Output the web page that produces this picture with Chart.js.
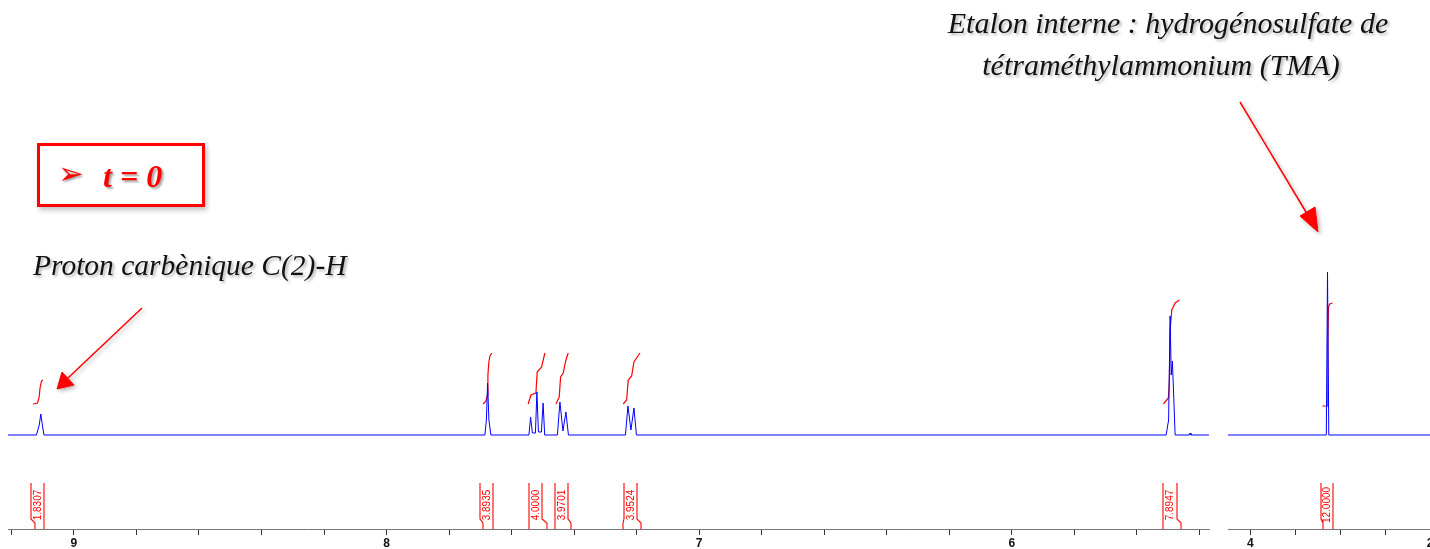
<!DOCTYPE html>
<html><head><meta charset="utf-8">
<script src="https://cdn.jsdelivr.net/npm/chart.js@4.4.0/dist/chart.umd.min.js"></script>
<style>
html,body{margin:0;padding:0;background:#fff;overflow:hidden;width:1430px;height:549px;}
#wrap{position:relative;width:1430px;height:549px;overflow:hidden;}
canvas{position:absolute;top:0;}
#cL{left:0;}
#cR{left:1216px;}
.ann{position:absolute;font-family:"Liberation Serif","Times New Roman",serif;font-style:italic;font-size:30px;line-height:30px;color:#111;white-space:nowrap;text-shadow:2px 2px 3px rgba(0,0,0,0.3);}
#box{position:absolute;left:37px;top:143px;width:168px;height:64px;box-sizing:border-box;border:3px solid #f00;box-shadow:2px 3px 5px rgba(0,0,0,0.25);background:#fff;}
#boxArrow{position:absolute;left:18px;top:10px;font-family:"DejaVu Sans",sans-serif;font-size:31px;line-height:34px;color:#f00;text-shadow:1px 2px 2px rgba(0,0,0,0.35);}
#boxText{position:absolute;left:63px;top:14px;font-family:"Liberation Serif","Times New Roman",serif;font-style:italic;font-weight:bold;font-size:32px;line-height:32px;color:#f00;white-space:pre;text-shadow:2px 2px 2px rgba(0,0,0,0.35);}
svg{position:absolute;left:0;top:0;}
</style>
</head><body>
<div id="wrap">
<canvas id="cL" width="1216" height="549"></canvas>
<canvas id="cR" width="240" height="549"></canvas>
<div class="ann" style="left:868px;width:600px;text-align:center;top:8px;">Etalon interne : hydrogénosulfate de</div>
<div class="ann" style="left:861px;width:600px;text-align:center;top:50px;">tétraméthylammonium (TMA)</div>
<div class="ann" style="left:33px;top:250px;font-size:29.5px;">Proton carbènique C(2)-H</div>
<div id="box"><span id="boxArrow">➢</span><span id="boxText">t = 0</span></div>
<svg width="1430" height="549" viewBox="0 0 1430 549">
<defs><filter id="sh" x="-20%" y="-20%" width="140%" height="140%"><feDropShadow dx="2" dy="2" stdDeviation="2" flood-color="#000" flood-opacity="0.3"/></filter></defs>
<g filter="url(#sh)" fill="#f00" stroke="#f00">
<line x1="1240" y1="102" x2="1309" y2="217" stroke-width="1.5"/>
<polygon points="1318,232 1300,216 1315,207" stroke-width="1"/>
<line x1="142" y1="308" x2="68" y2="378" stroke-width="1.5"/>
<polygon points="57,389 62,372 74,385" stroke-width="1"/>
</g>
</svg>
</div>
<script>
// ---- axis ticks ----
const leftTicks = [9.2, 9.0, 8.8, 8.6, 8.4, 8.2, 8.0, 7.8, 7.6, 7.4, 7.2, 7.0, 6.8, 6.6, 6.4, 6.2, 6.0, 5.8, 5.6, 5.4];
const leftMajor = [9, 8, 7, 6];
const rightTicks = [4.0, 3.5, 3.0, 2.5, 2.0];
const rightMajor = [4, 2];
const leftRange = [5.369, 9.211];
const rightRange = [2.0, 4.25];

// ---- spectrum (ppm, intensity) ----
const specLeftPpm = [9.211, 9.120, 9.111, 9.106, 9.101, 9.096,
  7.6854, 7.6806, 7.6768, 7.6726, 7.6662,
  7.5446, 7.5392, 7.5334, 7.5238, 7.5190, 7.5142, 7.5046, 7.4992, 7.4941,
  7.4534, 7.4454, 7.4358, 7.4262, 7.4182,
  7.2358, 7.2278, 7.2182, 7.2086, 7.2006,
  5.5062, 5.4982, 5.4934, 5.4898, 5.4861, 5.4774, 5.4320, 5.4294, 5.4268, 5.369];
const specLeftInt = [0, 0, 10, 21, 10, 0,
  0, 15, 52, 15, 0,
  0, 18, 2, 2, 43, 3, 3, 32, 0,
  0, 33, 4, 23, 0,
  0, 29, 5, 27, 0,
  0, 15, 119, 60, 74, 0, 0, 2, 0, 0];
const specRightPpm = [4.25, 3.155, 3.1416, 3.1271, 2.0];
const specRightInt = [0, 0, 163, 0, 0];

// ---- integral curves ----
const int1Ppm = [9.1309, 9.1168, 9.1117, 9.1085, 9.1040, 9.0989];
const int1Val = [31, 32, 37, 47, 54, 55];
const int2Ppm = [7.6909, 7.6822, 7.6774, 7.6758, 7.6726, 7.6694, 7.6630];
const int2Val = [31, 34, 40, 60, 73, 79, 82];
const int3Ppm = [7.5469, 7.5382, 7.5222, 7.5181, 7.5040, 7.4989, 7.4934];
const int3Val = [31, 40, 42, 63, 68, 75, 82];
const int4Ppm = [7.4582, 7.4477, 7.4432, 7.4349, 7.4262, 7.4189];
const int4Val = [31, 38, 58, 62, 75, 82];
const int5Ppm = [7.2429, 7.2320, 7.2269, 7.2160, 7.2086, 7.1894];
const int5Val = [31, 35, 55, 59, 73, 82];
const int6Ppm = [5.5149, 5.4989, 5.4957, 5.4934, 5.4880, 5.4774, 5.4637];
const int6Val = [31, 37, 55, 105, 125, 132, 135];
const intTPpm = [3.1973, 3.1416, 3.1382, 3.1304, 3.1159, 3.0858];
const intTVal = [29, 29, 92, 128, 131, 132];

// ---- integral values / ranges ----
const intLabelsLeft = ['1.8307', '3.8935', '4.0000', '3.9701', '3.9524', '7.8947'];
const intBoxFromLeft = [9.136, 7.7014, 7.5437, 7.4624, 7.2397, 5.5149];
const intBoxToLeft = [9.0954, 7.6589, 7.5021, 7.4189, 7.1981, 5.472];
const intRangeFromLeft = [9.1245, 7.6928, 7.5437, 7.4624, 7.2429, 5.5149];
const intRangeToLeft = [9.0954, 7.6589, 7.4880, 7.4112, 7.1853, 5.4591];
const intLabelsRight = ['12.0000'];
const intBoxFromRight = [3.2196];
const intBoxToRight = [3.0792];
const intRangeFromRight = [3.1906];
const intRangeToRight = [3.0792];

function pts(xs, ys){ return xs.map((x, i) => ({x: x, y: ys[i]})); }
function items(lbl, bf, bt, rf, rt){ return lbl.map((t, i) => ({text: t, bf: bf[i], bt: bt[i], rf: rf[i], rt: rt[i]})); }

const intLabelPlugin = {
  id: 'intLabels',
  afterDatasetsDraw(chart, args, opts){
    const xs = chart.scales.x, ctx = chart.ctx, bottom = chart.chartArea.bottom;
    ctx.save();
    (opts.items || []).forEach(it => {
      const bl = xs.getPixelForValue(it.bf), br = xs.getPixelForValue(it.bt);
      const rl = xs.getPixelForValue(it.rf), rr = xs.getPixelForValue(it.rt);
      [[bl, rl], [br, rr]].forEach(([b, r]) => {
        const bx = Math.round(b), rx = Math.round(r);
        ctx.strokeStyle = '#ff0000';
        ctx.lineWidth = 1.1;
        ctx.beginPath();
        ctx.moveTo(bx, bottom - 46); ctx.lineTo(bx, bottom - 10);
        ctx.lineTo(rx, bottom - 6); ctx.lineTo(rx, bottom);
        ctx.stroke();
      });
      ctx.save();
      ctx.translate((bl + br) / 2 + 0.5, bottom - 24);
      ctx.rotate(-Math.PI / 2);
      ctx.fillStyle = '#ff0000';
      ctx.font = '10px "Liberation Sans", Arial, sans-serif';
      ctx.textAlign = 'center';
      ctx.textBaseline = 'middle';
      ctx.fillText(it.text, 0, 0);
      ctx.restore();
    });
    ctx.restore();
  }
};
Chart.register(intLabelPlugin);

function ds(data, color, w){
  return {data: data, borderColor: color, borderWidth: w, pointRadius: 0, fill: false, tension: 0};
}

function makeChart(id, range, ticks, major, padL, padR, datasets, its){
  return new Chart(document.getElementById(id), {
    type: 'line',
    data: {datasets: datasets},
    options: {
      responsive: false, animation: false, devicePixelRatio: 1,
      layout: {padding: {left: padL, right: padR, top: 0, bottom: 0}},
      plugins: {legend: {display: false}, tooltip: {enabled: false}, intLabels: {items: its}},
      scales: {
        x: {
          type: 'linear', reverse: true, min: range[0], max: range[1],
          afterBuildTicks: s => { s.ticks = ticks.map(v => ({value: v})); },
          afterFit: s => { s.height = 20; },
          grid: {display: true, drawOnChartArea: false, drawTicks: true, tickLength: 6, color: '#333', lineWidth: 1},
          border: {display: true, color: '#777', width: 1},
          ticks: {
            autoSkip: false, maxRotation: 0, minRotation: 0, padding: 1, color: '#111',
            font: {family: '"Liberation Sans", Arial, sans-serif', size: 12, weight: 'bold'},
            callback: v => major.some(m => Math.abs(m - v) < 1e-6) ? String(Math.round(v)) : ''
          }
        },
        y: {type: 'linear', display: false, min: -94, max: 435}
      }
    }
  });
}

const blue = '#0000ff', red = '#ff0000';
makeChart('cL', leftRange, leftTicks, leftMajor, 8, 7, [
  ds(pts(specLeftPpm, specLeftInt), blue, 1),
  ds(pts(int1Ppm, int1Val), red, 1.2),
  ds(pts(int2Ppm, int2Val), red, 1.2),
  ds(pts(int3Ppm, int3Val), red, 1.2),
  ds(pts(int4Ppm, int4Val), red, 1.2),
  ds(pts(int5Ppm, int5Val), red, 1.2),
  ds(pts(int6Ppm, int6Val), red, 1.2)
], items(intLabelsLeft, intBoxFromLeft, intBoxToLeft, intRangeFromLeft, intRangeToLeft));

makeChart('cR', rightRange, rightTicks, rightMajor, 12, 26, [
  ds(pts(specRightPpm, specRightInt), blue, 1),
  ds(pts(intTPpm, intTVal), red, 1.2)
], items(intLabelsRight, intBoxFromRight, intBoxToRight, intRangeFromRight, intRangeToRight));
</script>
</body></html>
